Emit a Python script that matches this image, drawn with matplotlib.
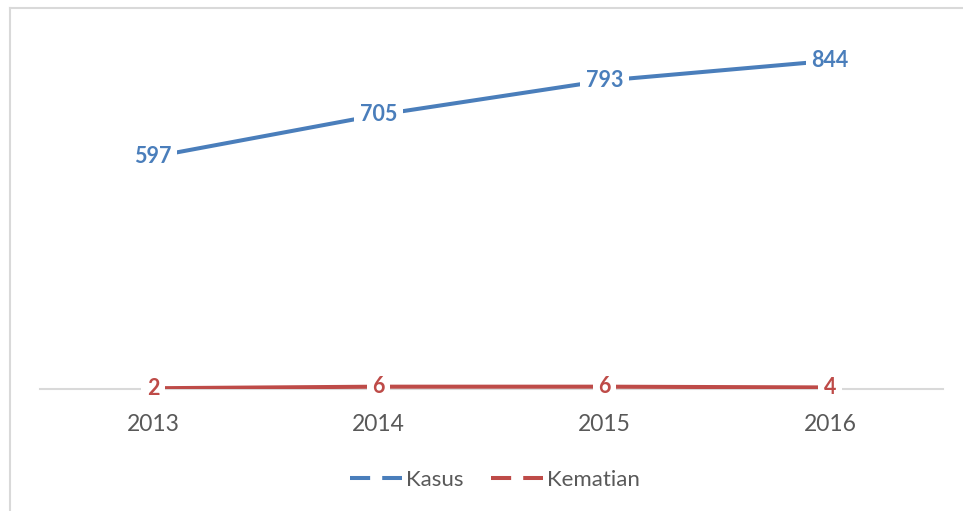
import matplotlib
matplotlib.use("Agg")
import matplotlib.pyplot as plt
from matplotlib.lines import Line2D

years = ["2013", "2014", "2015", "2016"]
kasus = [597, 705, 793, 844]
kematian = [2, 6, 6, 4]

blue = "#4A7EBB"
red = "#BE4B48"
W, H = 963, 511
fig = plt.figure(figsize=(W / 100, H / 100), dpi=100)
plt.rcParams['font.family'] = ['Lato', 'DejaVu Sans']

ax = fig.add_axes([40 / W, (H - 389) / H, 903 / W, 350 / H])
x = list(range(len(years)))
ax.plot(x, kasus, color=blue, lw=2.9, solid_capstyle='butt', zorder=2)
ax.plot(x, kematian, color=red, lw=2.9, solid_capstyle='butt', zorder=2)

for xi, v in zip(x, kasus):
    ax.text(xi, v, str(v), color=blue, fontsize=15.5, fontweight='bold',
            ha='center', va='center', zorder=3,
            bbox=dict(facecolor='white', edgecolor='none', pad=4))
for xi, v in zip(x, kematian):
    ax.text(xi, v, str(v), color=red, fontsize=15.5, fontweight='bold',
            ha='center', va='center', zorder=3,
            bbox=dict(facecolor='white', edgecolor='none', pad=4))

ax.set_xlim(-0.5, 3.5)
ax.set_ylim(0, 900)
ax.set_xticks(x)
ax.set_xticklabels(years, fontsize=16.5, color="#595959")
ax.tick_params(axis='x', length=0, pad=18)
ax.set_yticks([])
for s in ['top', 'right', 'left']:
    ax.spines[s].set_visible(False)
ax.spines['bottom'].set_color("#D9D9D9")
ax.spines['bottom'].set_linewidth(1.5)
ax.spines['bottom'].set_zorder(1)

handles = [Line2D([], [], color=blue, lw=2.9, linestyle=(0, (5, 3))),
           Line2D([], [], color=red, lw=2.9, linestyle=(0, (5, 3)))]
fig.legend(handles, ["Kasus", "Kematian"], loc='center',
           bbox_to_anchor=(495 / W, (H - 480) / H), ncol=2, frameon=False,
           fontsize=16, labelcolor="#595959", handlelength=2.35,
           handletextpad=0.18, columnspacing=1.2)

# outer frame (left and top edges visible)
fig.add_artist(Line2D([9.5 / W, 9.5 / W], [0, (H - 8) / H], color="#D9D9D9",
                      lw=1.5, transform=fig.transFigure))
fig.add_artist(Line2D([9.5 / W, 1], [(H - 8) / H, (H - 8) / H], color="#D9D9D9",
                      lw=1.5, transform=fig.transFigure))

fig.savefig("out.png", dpi=100)
